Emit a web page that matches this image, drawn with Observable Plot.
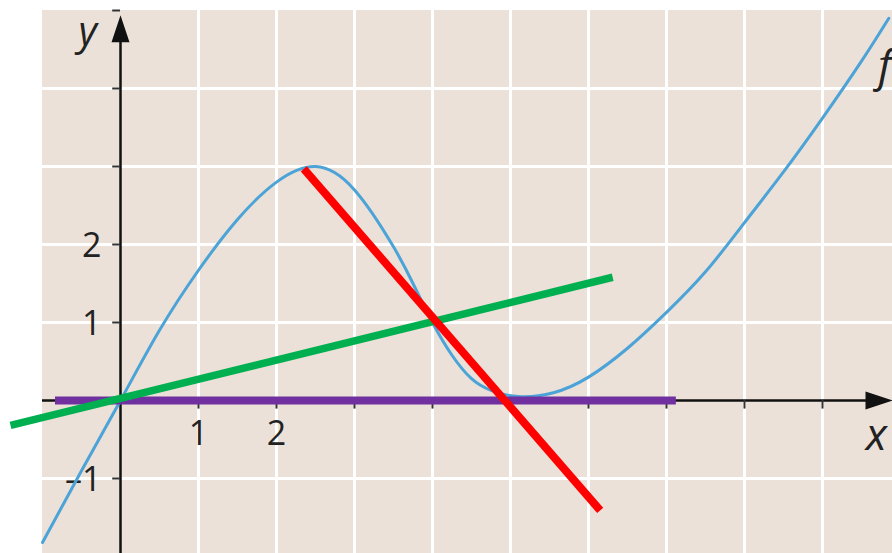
<!DOCTYPE html>
<html>
<head>
<meta charset="utf-8">
<script src="https://cdn.jsdelivr.net/npm/d3@7"></script>
<script src="https://cdn.jsdelivr.net/npm/@observablehq/plot@0.6"></script>
<style>
  html, body { margin: 0; padding: 0; background: #ffffff; }
  #chart svg { display: block; }
</style>
</head>
<body>
<div id="chart"></div>
<script>
// ---- data ----
const fX = [-1, -0.5, 0, 0.5, 1, 1.5, 2, 2.5, 3, 3.5, 3.75, 4, 4.25, 4.5, 4.75, 5.1, 5.55, 6, 6.5, 7, 7.5, 8, 8.5, 9, 9.5, 9.85];
const fY = [-1.82, -0.9, 0, 0.9, 1.67, 2.32, 2.8, 3.0, 2.7, 1.97, 1.5, 1.0, 0.58, 0.28, 0.13, 0.05, 0.1, 0.3, 0.67, 1.13, 1.65, 2.28, 2.93, 3.62, 4.35, 4.9];

const redX = [2.35, 6.15];
const redY = [2.97, -1.41];
const greenX = [-1.41, 6.31];
const greenY = [-0.32, 1.58];
const purpleX = [-0.84, 7.12];
const purpleY = [0, 0];

const gridX = [1, 2, 3, 4, 5, 6, 7, 8, 9];
const gridY = [-1, 1, 2, 3, 4];
const xTickMarks = [1, 2, 3, 4, 5, 6, 7, 8, 9];
const yTickMarks = [-1, 1, 2, 3, 4, 5];
const xTickLabels = [1, 2];
const yTickLabels = [-1, 1, 2];
const xTickText = ["1", "2"];
const yTickText = ["\u20131", "1", "2"];

const xDomain = [-120 / 78, 772 / 78];
const yDomain = [-153 / 78, 400 / 78];
const paperX = [-1, xDomain[1]];
const paperY = [yDomain[0], 5];

// ---- build tables ----
const fPts = fX.map((x, i) => ({x, y: fY[i]}));
const seg = (xs, ys) => xs.map((x, i) => ({x, y: ys[i]}));

// arrowhead symbol: tip at (0,0), pointing up
const arrowHead = {
  draw(ctx) {
    ctx.moveTo(0, 0);
    ctx.lineTo(9, 27);
    ctx.lineTo(-9, 27);
    ctx.closePath();
  }
};

const font = "'Open Sans', 'DejaVu Sans', sans-serif";

const chart = Plot.plot({
  width: 892,
  height: 553,
  margin: 0,
  x: {domain: xDomain, axis: null},
  y: {domain: yDomain, axis: null},
  style: {background: "#ffffff", fontFamily: font},
  marks: [
    Plot.rect([0], {x1: paperX[0], x2: paperX[1], y1: paperY[0], y2: paperY[1], fill: "#ebe1d8"}),
    Plot.ruleX(gridX, {y1: paperY[0], y2: paperY[1], stroke: "#ffffff", strokeWidth: 3}),
    Plot.ruleY(gridY, {x1: paperX[0], x2: paperX[1], stroke: "#ffffff", strokeWidth: 3}),
    // axes
    Plot.ruleY([0], {x1: -1, x2: 9.6, stroke: "#111", strokeWidth: 2.5}),
    Plot.ruleX([0], {y1: paperY[0] - 0.1, y2: 4.7, stroke: "#111", strokeWidth: 2.5}),
    Plot.ruleX(xTickMarks, {y1: 0, y2: -0.11, stroke: "#333", strokeWidth: 2}),
    Plot.ruleY(yTickMarks, {x1: -0.1, x2: 0, stroke: "#333", strokeWidth: 2}),
    Plot.dot([0], {x: 0, y: 4.94, symbol: arrowHead, fill: "#111", stroke: null, r: 5}),
    Plot.dot([0], {x: xDomain[1], y: 0, symbol: arrowHead, fill: "#111", stroke: null, r: 5, rotate: 90}),
    // tick labels
    Plot.text(xTickLabels, {x: d => d, y: 0, text: (d, i) => xTickText[i], dy: 34, fontSize: 34, fill: "#222"}),
    Plot.text(yTickLabels, {x: 0, y: d => d, text: (d, i) => yTickText[i], dx: -19, dy: 2, textAnchor: "end", fontSize: 34, fill: "#222"}),
    // axis names
    Plot.text(["y"], {x: -0.42, y: 4.728, text: d => d, fontSize: 40, fontStyle: "italic", fill: "#222"}),
    Plot.text(["x"], {x: 9.69, y: -0.45, text: d => d, fontSize: 44, fontStyle: "italic", fill: "#222"}),
    Plot.text(["f"], {x: 9.8, y: 4.28, text: d => d, fontSize: 44, fontStyle: "italic", fill: "#222"}),
    // curve and lines
    Plot.line(fPts, {x: "x", y: "y", stroke: "#4ba3d7", strokeWidth: 3, curve: "natural"}),
    Plot.line(seg(purpleX, purpleY), {x: "x", y: "y", stroke: "#7030a0", strokeWidth: 8, strokeLinecap: "butt"}),
    Plot.line(seg(greenX, greenY), {x: "x", y: "y", stroke: "#00b050", strokeWidth: 7.5, strokeLinecap: "butt"}),
    Plot.line(seg(redX, redY), {x: "x", y: "y", stroke: "#ff0000", strokeWidth: 8, strokeLinecap: "butt"})
  ]
});
document.getElementById("chart").appendChild(chart);
</script>
</body>
</html>
